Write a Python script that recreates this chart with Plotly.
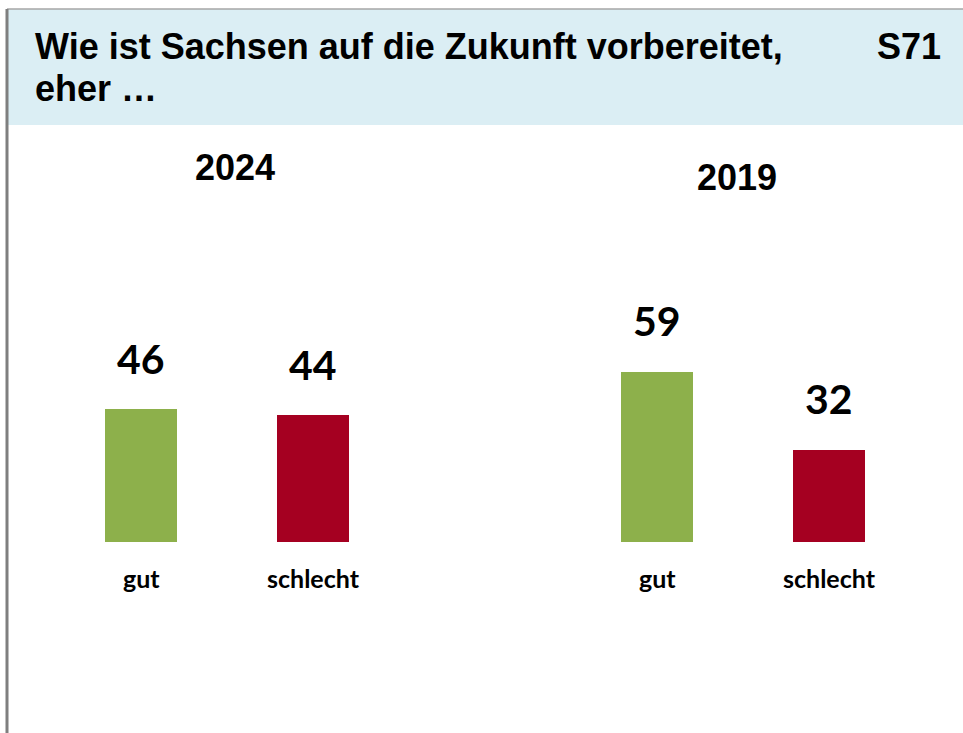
import plotly.graph_objects as go

# ---- data ----
years = ["2024", "2019"]
categories = ["gut", "schlecht"]
values_2024 = [46, 44]
values_2019 = [59, 32]
colors = ["#8DB04B", "#A50021"]
title_line1 = "Wie ist Sachsen auf die Zukunft vorbereitet,"
title_line2 = "eher …"
slide_id = "S71"

W, H = 963, 733
def px(x):
    return x / W
def py(y):
    return 1 - y / H

series = [values_2024, values_2019]

fig = go.Figure()
annotations = []
for g, (year, vals) in enumerate(zip(years, series)):
    xs = [g * 3 + i for i in range(len(categories))]
    fig.add_trace(go.Bar(
        x=xs, y=vals, marker=dict(color=colors, line=dict(width=0)),
        width=0.42, showlegend=False, hoverinfo="skip",
    ))
    for x, v, c in zip(xs, vals, categories):
        annotations.append(dict(
            x=x, y=v, xref="x", yref="y", text="<b>%d</b>" % v,
            showarrow=False, yanchor="middle", yshift=51,
            font=dict(family="Lato", size=41, color="#000000"),
        ))
        annotations.append(dict(
            x=x, y=0, xref="x", yref="y", text="<b>%s</b>" % c,
            showarrow=False, yanchor="middle", yshift=-36,
            font=dict(family="Lato", size=25, color="#000000"),
        ))

# year headings
year_pix = [(235, 167), (737, 178)]
for year, (xp, yp) in zip(years, year_pix):
    annotations.append(dict(
        x=px(xp), y=py(yp), xref="paper", yref="paper", text="<b>%s</b>" % year,
        showarrow=False, xanchor="center", yanchor="middle",
        font=dict(family="Liberation Sans", size=36, color="#000000"),
    ))

# title
annotations.append(dict(
    x=px(33), y=py(46), xref="paper", yref="paper", text="<b>%s</b>" % title_line1,
    showarrow=False, xanchor="left", yanchor="middle",
    font=dict(family="Liberation Sans", size=36, color="#000000"),
))
annotations.append(dict(
    x=px(33), y=py(88), xref="paper", yref="paper", text="<b>%s</b>" % title_line2,
    showarrow=False, xanchor="left", yanchor="middle",
    font=dict(family="Liberation Sans", size=36, color="#000000"),
))
annotations.append(dict(
    x=px(943), y=py(46), xref="paper", yref="paper", text="<b>%s</b>" % slide_id,
    showarrow=False, xanchor="right", yanchor="middle",
    font=dict(family="Liberation Sans", size=36, color="#000000"),
))

shapes = [
    dict(type="rect", xref="paper", yref="paper", x0=px(7), x1=1, y0=py(125), y1=py(9),
         fillcolor="#DBEEF4", line=dict(width=0), layer="below"),
    dict(type="line", xref="paper", yref="paper", x0=px(7), x1=1, y0=py(9), y1=py(9),
         line=dict(color="#A6A6A6", width=1.5)),
    dict(type="line", xref="paper", yref="paper", x0=px(7), x1=px(7), y0=0, y1=py(9),
         line=dict(color="#7F7F7F", width=3)),
]

unit = 172.0     # px per x position
ppu = 2.885      # px per value unit
base = 542
fig.update_layout(
    width=W, height=H,
    margin=dict(l=0, r=0, t=0, b=0),
    paper_bgcolor="white", plot_bgcolor="rgba(0,0,0,0)",
    annotations=annotations, shapes=shapes,
    xaxis=dict(range=[-141 / unit, (W - 141) / unit], visible=False, fixedrange=True),
    yaxis=dict(domain=[py(base), 1], range=[0, base / ppu], visible=False, fixedrange=True),
    bargap=0,
)

fig.write_html("out.html", config={"displayModeBar": False},
               post_script="document.body.style.margin='0';document.body.style.overflow='hidden';")
